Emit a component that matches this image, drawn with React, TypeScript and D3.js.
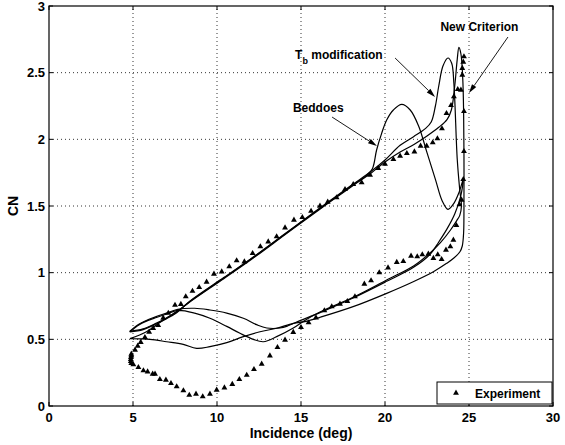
import React from 'react';
import * as d3 from 'd3';

const W = 565;
const H = 445;

const xTicks = [0, 5, 10, 15, 20, 25, 30];
const yTicks = [0, 0.5, 1, 1.5, 2, 2.5, 3];
const yTickLabels = ['0', '0.5', '1', '1.5', '2', '2.5', '3'];

// Measured normal-force coefficient over one pitching cycle: [incidence (deg), CN]
const experiment: [number, number][] = [
  [4.9, 0.39], [5.12, 0.42], [5.28, 0.45], [5.46, 0.478], [5.71, 0.515], [5.96, 0.555],
  [6.2, 0.583], [6.5, 0.605], [6.8, 0.66], [7.1, 0.697], [7.5, 0.757], [7.85, 0.763],
  [8.14, 0.82], [8.54, 0.862], [8.94, 0.89], [9.38, 0.93], [9.82, 0.99], [10.28, 1.007],
  [10.73, 1.045], [11.17, 1.09], [11.63, 1.082], [12.12, 1.145], [12.58, 1.195], [13.05, 1.232],
  [13.55, 1.27], [14.05, 1.337], [14.58, 1.395], [15.08, 1.415], [15.6, 1.462], [16.13, 1.5],
  [16.59, 1.53], [17.12, 1.563], [17.62, 1.625], [18.11, 1.662], [18.61, 1.675], [19.11, 1.733],
  [19.6, 1.783], [20.0, 1.815], [20.5, 1.85], [20.9, 1.875], [21.3, 1.895], [21.75, 1.907],
  [22.12, 1.95], [22.48, 1.95], [22.84, 1.975], [23.12, 2.005], [23.39, 2.08], [23.66, 2.195],
  [23.93, 2.255], [24.1, 2.32], [24.33, 2.375], [24.52, 2.37], [24.6, 2.483], [24.6, 2.533],
  [24.66, 2.58], [24.7, 2.62],
  [24.7, 2.21], [24.7, 1.91], [24.66, 1.7], [24.56, 1.545], [24.43, 1.51], [24.25, 1.355],
  [24.07, 1.245], [23.89, 1.195], [23.63, 1.17], [23.37, 1.1], [23.14, 1.135], [22.88, 1.108],
  [22.58, 1.14], [22.22, 1.135], [21.92, 1.12], [21.55, 1.125], [21.09, 1.085], [20.7, 1.078],
  [20.18, 1.037], [19.66, 1.0], [19.17, 0.94], [18.77, 0.915], [18.21, 0.82], [17.76, 0.785],
  [17.32, 0.765], [16.83, 0.745], [16.39, 0.715], [15.89, 0.662], [15.45, 0.625], [15.0, 0.59],
  [14.54, 0.553], [14.05, 0.495], [13.6, 0.44], [13.15, 0.377], [12.66, 0.315], [12.2, 0.275],
  [11.77, 0.232], [11.33, 0.2], [10.91, 0.163], [10.44, 0.137], [9.98, 0.12], [9.58, 0.09],
  [9.15, 0.07], [8.75, 0.09], [8.35, 0.082], [8.0, 0.115], [7.6, 0.145], [7.26, 0.17],
  [6.96, 0.195], [6.6, 0.2], [6.31, 0.24], [6.17, 0.24], [5.87, 0.257], [5.62, 0.265],
  [5.32, 0.29], [5.02, 0.31], [4.9, 0.32], [4.87, 0.335], [4.87, 0.35], [4.88, 0.365], [4.9, 0.378],
];

// Beddoes model loop
const beddoes: [number, number][] = [
  [4.8, 0.56], [5.6, 0.578], [6.4, 0.622], [7.0, 0.66], [7.6, 0.705], [8.4, 0.785],
  [10.4, 0.96], [12.0, 1.1], [14.0, 1.285], [16.0, 1.47], [18.0, 1.65], [18.9, 1.73],
  [19.25, 1.78], [19.5, 1.92], [19.8, 2.045], [20.1, 2.145], [20.5, 2.22], [21.0, 2.262],
  [21.5, 2.22], [22.0, 2.1], [22.5, 1.9], [23.0, 1.7], [23.4, 1.54], [23.75, 1.475],
  [24.1, 1.52], [24.4, 1.6], [24.66, 1.7], [24.5, 1.57], [24.15, 1.44], [23.7, 1.33],
  [23.2, 1.23], [22.7, 1.14], [21.7, 1.04], [20.1, 0.935], [18.1, 0.81], [16.13, 0.7],
  [14.94, 0.64], [14.2, 0.6], [13.75, 0.585], [12.96, 0.585], [12.36, 0.61], [11.57, 0.658],
  [10.58, 0.697], [9.58, 0.72], [8.67, 0.733], [7.66, 0.725], [7.0, 0.697], [6.3, 0.667],
  [5.4, 0.617], [4.8, 0.56],
];

// Beddoes model with modified T_b
const tbModification: [number, number][] = [
  [4.8, 0.555], [5.6, 0.573], [6.4, 0.617], [7.0, 0.655], [7.6, 0.7], [8.4, 0.788],
  [10.4, 0.963], [12.0, 1.103], [14.0, 1.288], [16.0, 1.473], [18.0, 1.655], [19.2, 1.762],
  [20.0, 1.845], [20.9, 1.955], [21.7, 2.02], [22.4, 2.08], [22.75, 2.13], [23.0, 2.25],
  [23.2, 2.4], [23.45, 2.55], [23.75, 2.61], [23.97, 2.57], [24.1, 2.42], [24.3, 1.85],
  [24.45, 1.62], [24.55, 1.5], [24.45, 1.43], [24.27, 1.39], [23.9, 1.32], [23.3, 1.225],
  [22.7, 1.15], [21.7, 1.05], [20.1, 0.945], [18.1, 0.815], [16.13, 0.705], [15.2, 0.64],
  [14.54, 0.585], [13.55, 0.52], [12.76, 0.482], [12.16, 0.5], [11.37, 0.545], [10.58, 0.597],
  [9.58, 0.658], [8.67, 0.697], [7.66, 0.717], [7.0, 0.69], [6.3, 0.66], [5.4, 0.612],
  [4.8, 0.555],
];

// New stall-onset criterion
const newCriterion: [number, number][] = [
  [4.82, 0.505], [5.8, 0.557], [6.8, 0.645], [7.8, 0.725], [8.4, 0.782], [10.4, 0.955],
  [12.0, 1.095], [14.0, 1.28], [16.0, 1.465], [18.0, 1.645], [19.2, 1.75], [20.0, 1.83],
  [20.9, 1.905], [21.7, 1.96], [22.5, 2.025], [23.2, 2.09], [23.7, 2.15], [23.95, 2.22],
  [24.15, 2.4], [24.3, 2.6], [24.4, 2.69], [24.52, 2.64], [24.63, 2.45], [24.68, 2.2],
  [24.7, 1.9], [24.7, 1.55], [24.68, 1.3], [24.6, 1.2], [24.46, 1.157], [24.1, 1.11],
  [23.67, 1.07], [22.88, 1.007], [21.68, 0.932], [20.1, 0.845], [18.1, 0.745], [16.13, 0.665],
  [15.3, 0.635], [14.54, 0.62], [13.55, 0.583], [12.56, 0.557], [11.57, 0.52], [10.58, 0.475],
  [9.58, 0.445], [8.79, 0.432], [7.99, 0.462], [7.0, 0.482], [6.01, 0.5], [4.82, 0.505],
];

// Callout labels: text anchor, arrow tail and arrow tip in data units
const callouts = [
  { text: 'Beddoes', at: [14.52, 2.205], from: [16.85, 2.167], to: [19.52, 1.95] },
  { text: 'T', sub: 'b', rest: ' modification', at: [14.65, 2.6], from: [20.6, 2.61], to: [22.98, 2.318] },
  { text: 'New Criterion', at: [23.3, 2.813], from: [27.32, 2.7675], to: [25.0, 2.3475] },
];

const FONT = '"Liberation Sans", Arial, Helvetica, sans-serif';

export default function App() {
  const x = d3.scaleLinear().domain([0, 30]).range([49, 553]);
  const y = d3.scaleLinear().domain([0, 3]).range([406, 6]);
  const [x0, x1] = x.range();
  const [y0, y1] = y.range();

  const line = d3
    .line<[number, number]>()
    .x((d) => x(d[0]))
    .y((d) => y(d[1]))
    .curve(d3.curveCatmullRom.alpha(0.5));

  const tri = d3.symbol().type(d3.symbolTriangle).size(15)() as string;

  const arrow = (from: number[], to: number[]) => {
    const ax = x(from[0]), ay = y(from[1]);
    const bx = x(to[0]), by = y(to[1]);
    const ang = Math.atan2(by - ay, bx - ax);
    const len = 9, hw = 2.6;
    const baseX = bx - len * Math.cos(ang);
    const baseY = by - len * Math.sin(ang);
    const px = -Math.sin(ang) * hw, py = Math.cos(ang) * hw;
    return (
      <g>
        <line x1={ax} y1={ay} x2={baseX} y2={baseY} stroke="#000" strokeWidth={0.9} />
        <path d={`M${bx},${by}L${baseX + px},${baseY + py}L${baseX - px},${baseY - py}Z`} fill="#000" />
      </g>
    );
  };

  return (
    <svg width={W} height={H} style={{ position: 'absolute', left: 0, top: 0, background: '#fff' }}
      fontFamily={FONT} fontWeight="bold">
      <rect x={0} y={0} width={W} height={H} fill="#fff" />
      {/* dotted grid */}
      {xTicks.slice(1, -1).map((t) => (
        <line key={'gx' + t} x1={x(t)} x2={x(t)} y1={y0} y2={y1} stroke="#000" strokeWidth={0.8} strokeDasharray="1,3" />
      ))}
      {yTicks.slice(1, -1).map((t) => (
        <line key={'gy' + t} x1={x0} x2={x1} y1={y(t)} y2={y(t)} stroke="#000" strokeWidth={0.8} strokeDasharray="1,3" />
      ))}
      {/* model curves */}
      {[beddoes, tbModification, newCriterion].map((s, i) => (
        <path key={'c' + i} d={line(s) as string} fill="none" stroke="#000" strokeWidth={1.2} />
      ))}
      {/* experiment markers */}
      {experiment.map((d, i) => (
        <path key={'e' + i} d={tri} transform={`translate(${x(d[0])},${y(d[1])})`} fill="#000" />
      ))}
      {/* callouts */}
      {callouts.map((c, i) => (
        <g key={'a' + i}>
          {arrow(c.from, c.to)}
          <text x={x(c.at[0])} y={y(c.at[1])} fontSize={12} fill="#000">
            {c.text}
            {c.sub ? <tspan fontSize={9} dy={5}>{c.sub}</tspan> : null}
            {c.rest ? <tspan dy={-5}>{c.rest}</tspan> : null}
          </text>
        </g>
      ))}
      {/* ticks */}
      {xTicks.map((t) => (
        <g key={'tx' + t}>
          <line x1={x(t)} x2={x(t)} y1={y0} y2={y0 - 4} stroke="#000" />
          <line x1={x(t)} x2={x(t)} y1={y1} y2={y1 + 4} stroke="#000" />
          <text x={x(t)} y={y0 + 16} fontSize={13} textAnchor="middle">{t}</text>
        </g>
      ))}
      {yTicks.map((t, i) => (
        <g key={'ty' + t}>
          <line x1={x0} x2={x0 + 4} y1={y(t)} y2={y(t)} stroke="#000" />
          <line x1={x1} x2={x1 - 4} y1={y(t)} y2={y(t)} stroke="#000" />
          <text x={x0 - 4} y={y(t) + 4.5} fontSize={13} textAnchor="end">{yTickLabels[i]}</text>
        </g>
      ))}
      {/* frame */}
      <rect x={x0} y={y1} width={x1 - x0} height={y0 - y1} fill="none" stroke="#000" strokeWidth={1.2} />
      {/* legend */}
      <rect x={437} y={382} width={115} height={22} fill="#fff" stroke="#000" strokeWidth={1} />
      <path d={tri} transform="translate(456,393)" fill="#000" />
      <text x={475} y={398} fontSize={12}>Experiment</text>
      {/* axis titles */}
      <text x={(x0 + x1) / 2} y={438} fontSize={14} textAnchor="middle">Incidence (deg)</text>
      <text transform={`translate(18,${(y0 + y1) / 2}) rotate(-90)`} fontSize={14} textAnchor="middle">CN</text>
    </svg>
  );
}
